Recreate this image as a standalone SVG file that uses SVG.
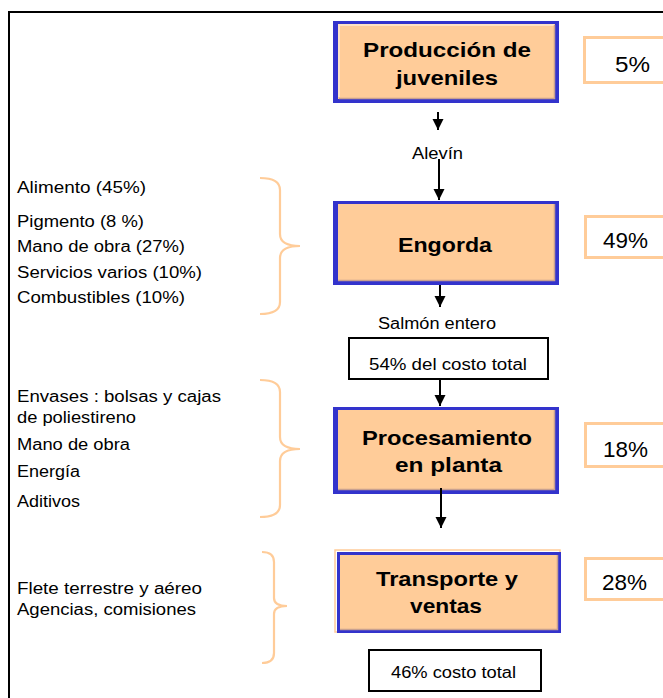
<svg xmlns="http://www.w3.org/2000/svg" width="663" height="698" viewBox="0 0 663 698">
<style>
.frame{fill:none;stroke:#000;stroke-width:2}
.outer{fill:#3333CC}
.inner{fill:#FFCC99}
.hl{fill:none;stroke:#FFE3C6;stroke-width:2}
.sh{fill:none;stroke:#C8A090;stroke-width:1.5}
.title{font-family:"Liberation Sans",Arial,sans-serif;font-weight:bold;font-size:21px;fill:#000;text-anchor:start}
.pct{fill:#fff;stroke:#FFCC99;stroke-width:3}
.pctt{font-family:"Liberation Sans",Arial,sans-serif;font-size:22px;fill:#000}
.lbl{font-family:"Liberation Sans",Arial,sans-serif;font-size:16px;fill:#000}
.tot{fill:#fff;stroke:#000;stroke-width:2}
.brace{fill:none;stroke:#FFCC99;stroke-width:2.2}
.arr{stroke:#000;stroke-width:2;fill:none;marker-end:url(#ah)}
</style>
<defs>
<marker id="ah" markerUnits="userSpaceOnUse" markerWidth="12" markerHeight="12" viewBox="0 0 12 12" refX="11" refY="6" orient="auto">
<path d="M0,0.5 L11,6 L0,11.5 z" fill="#000"/>
</marker>
</defs>
<rect width="663" height="698" fill="#fff"/>
<path class="frame" d="M9,698 L9,12 L663,12"/>

<g id="n-produccion">
<rect class="outer" x="333" y="21" width="226" height="82"/>
<rect class="inner" x="338" y="24" width="217" height="75"/>
<path class="hl" d="M339,97 L339,25 L554,25"/>
<path class="sh" d="M339,98.5 L554.5,98.5 L554.5,25"/>
<text class="title" x="363" y="57" textLength="168" lengthAdjust="spacingAndGlyphs">Producción de</text>
<text class="title" x="396" y="85" textLength="102" lengthAdjust="spacingAndGlyphs">juveniles</text>
</g>
<g id="p-5">
<rect class="pct" x="584.5" y="37.5" width="90" height="45"/>
<text class="pctt" x="615" y="72" textLength="35" lengthAdjust="spacingAndGlyphs">5%</text>
</g>

<g id="n-engorda">
<rect class="outer" x="333" y="201" width="226" height="84"/>
<rect class="inner" x="338" y="204" width="217" height="77"/>
<path class="sh" d="M338,280.5 L554.5,280.5 L554.5,204"/>
<text class="title" x="398" y="252" textLength="94" lengthAdjust="spacingAndGlyphs">Engorda</text>
</g>
<g id="p-49">
<rect class="pct" x="585.5" y="216.5" width="90" height="41"/>
<text class="pctt" x="603" y="248" textLength="45" lengthAdjust="spacingAndGlyphs">49%</text>
</g>

<g id="n-total54">
<rect class="tot" x="349" y="338" width="199" height="41"/>
<text class="lbl" x="369" y="370" textLength="158" lengthAdjust="spacingAndGlyphs">54% del  costo total</text>
</g>

<g id="n-procesamiento">
<rect class="outer" x="333" y="407" width="226" height="87"/>
<rect class="inner" x="338" y="410" width="217" height="80"/>
<path class="sh" d="M338,489.5 L554.5,489.5 L554.5,410"/>
<text class="title" x="362" y="445" textLength="170" lengthAdjust="spacingAndGlyphs">Procesamiento</text>
<text class="title" x="395" y="472" textLength="107" lengthAdjust="spacingAndGlyphs">en planta</text>
</g>
<g id="p-18">
<rect class="pct" x="585.5" y="423.5" width="90" height="43"/>
<text class="pctt" x="603" y="457" textLength="45" lengthAdjust="spacingAndGlyphs">18%</text>
</g>

<g id="n-transporte">
<rect x="335" y="550" width="225" height="82" fill="none" stroke="#FFCC99" stroke-width="1.5"/>
<rect class="outer" x="337" y="552" width="224" height="81"/>
<rect class="inner" x="340" y="555" width="218" height="75"/>
<path class="sh" d="M340,629.5 L557.5,629.5 L557.5,555"/>
<text class="title" x="376" y="586" textLength="142" lengthAdjust="spacingAndGlyphs">Transporte y</text>
<text class="title" x="410" y="613" textLength="72" lengthAdjust="spacingAndGlyphs">ventas</text>
</g>
<g id="p-28">
<rect class="pct" x="585.5" y="558.5" width="90" height="41"/>
<text class="pctt" x="602" y="590" textLength="45" lengthAdjust="spacingAndGlyphs">28%</text>
</g>

<g id="n-total46">
<rect class="tot" x="369" y="650" width="172" height="41"/>
<text class="lbl" x="391" y="678" textLength="125" lengthAdjust="spacingAndGlyphs">46% costo total</text>
</g>

<g id="l-engorda">
<text class="lbl" x="17" y="193" textLength="129" lengthAdjust="spacingAndGlyphs">Alimento (45%)</text>
<text class="lbl" x="17" y="227" textLength="127" lengthAdjust="spacingAndGlyphs">Pigmento (8 %)</text>
<text class="lbl" x="17" y="252" textLength="168" lengthAdjust="spacingAndGlyphs">Mano de obra (27%)</text>
<text class="lbl" x="17" y="278" textLength="185" lengthAdjust="spacingAndGlyphs">Servicios varios (10%)</text>
<text class="lbl" x="17" y="303" textLength="168" lengthAdjust="spacingAndGlyphs">Combustibles (10%)</text>
<path class="brace" d="M260,178 Q280,178 280,190 L280,234 Q280,246 300,246 Q280,246 280,258 L280,302 Q280,314 260,314"/>
</g>

<g id="l-procesamiento">
<text class="lbl" x="17" y="402" textLength="204" lengthAdjust="spacingAndGlyphs">Envases : bolsas y cajas</text>
<text class="lbl" x="17" y="423" textLength="119" lengthAdjust="spacingAndGlyphs">de poliestireno</text>
<text class="lbl" x="17" y="450" textLength="113" lengthAdjust="spacingAndGlyphs">Mano de obra</text>
<text class="lbl" x="17" y="477" textLength="63" lengthAdjust="spacingAndGlyphs">Energía</text>
<text class="lbl" x="17" y="507" textLength="63" lengthAdjust="spacingAndGlyphs">Aditivos</text>
<path class="brace" d="M260,380 Q280,380 280,392 L280,437 Q280,449 300,449 Q280,449 280,461 L280,505 Q280,517 260,517"/>
</g>

<g id="l-transporte">
<text class="lbl" x="17" y="594" textLength="185" lengthAdjust="spacingAndGlyphs">Flete terrestre y aéreo</text>
<text class="lbl" x="17" y="615" textLength="179" lengthAdjust="spacingAndGlyphs">Agencias, comisiones</text>
<path class="brace" d="M262,552 Q274,552 274,562 L274,598 Q274,606 287,606 Q274,606 274,614 L274,653 Q274,663 262,663"/>
</g>

<g id="connectors">
<line class="arr" x1="438" y1="112" x2="438" y2="130"/>
<text class="lbl" x="412" y="159" textLength="51" lengthAdjust="spacingAndGlyphs">Alevín</text>
<line class="arr" x1="439" y1="159" x2="439" y2="200"/>
<line class="arr" x1="440" y1="285" x2="440" y2="307"/>
<text class="lbl" x="378" y="329" textLength="118" lengthAdjust="spacingAndGlyphs">Salmón entero</text>
<line class="arr" x1="440" y1="379" x2="440" y2="406"/>
<line class="arr" x1="441" y1="488" x2="441" y2="528"/>
</g>
</svg>
